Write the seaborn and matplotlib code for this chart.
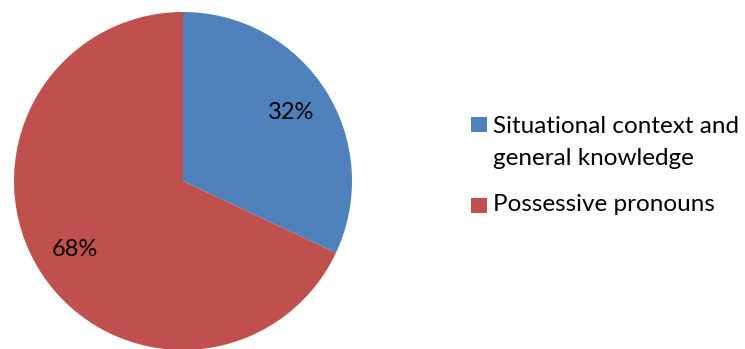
import matplotlib
matplotlib.use("Agg")
import matplotlib.pyplot as plt
from matplotlib.patches import Rectangle
import seaborn as sns

sns.set_theme(style="white")
plt.rcParams["font.family"] = ["Lato", "DejaVu Sans"]

categories = ["Situational context and\ngeneral knowledge", "Possessive pronouns"]
shares = [32, 68]
colors = ["#4F81BD", "#C0504D"]

W, H = 745, 349
fig = plt.figure(figsize=(W / 100, H / 100), dpi=100)
ax = fig.add_axes([14 / W, -1 / H, 338 / W, 338 / H])

wedges, texts, autotexts = ax.pie(
    shares,
    colors=colors,
    startangle=90,
    counterclock=False,
    radius=1.0,
    autopct="%d%%",
    pctdistance=0.76,
    wedgeprops={"linewidth": 0, "edgecolor": "none"},
    textprops={"fontsize": 17, "color": "#000000"},
)
ax.set_xlim(-1, 1)
ax.set_ylim(-1, 1)
ax.set_aspect("equal")
ax.axis("off")

# Legend drawn by hand: colour square plus (possibly two-line) label
legend_rows = [
    {"square_top": 117, "baselines": [133, 165]},
    {"square_top": 198, "baselines": [211]},
]
for label, color, row in zip(categories, colors, legend_rows):
    top = row["square_top"]
    fig.patches.append(
        Rectangle((471 / W, 1 - (top + 15) / H), 16 / W, 15 / H,
                  transform=fig.transFigure, facecolor=color,
                  edgecolor="none")
    )
    for line, base in zip(label.split("\n"), row["baselines"]):
        fig.text(493 / W, 1 - base / H, line, fontsize=17.5,
                 color="#000000", ha="left", va="baseline")

fig.savefig("out.png", dpi=100)
